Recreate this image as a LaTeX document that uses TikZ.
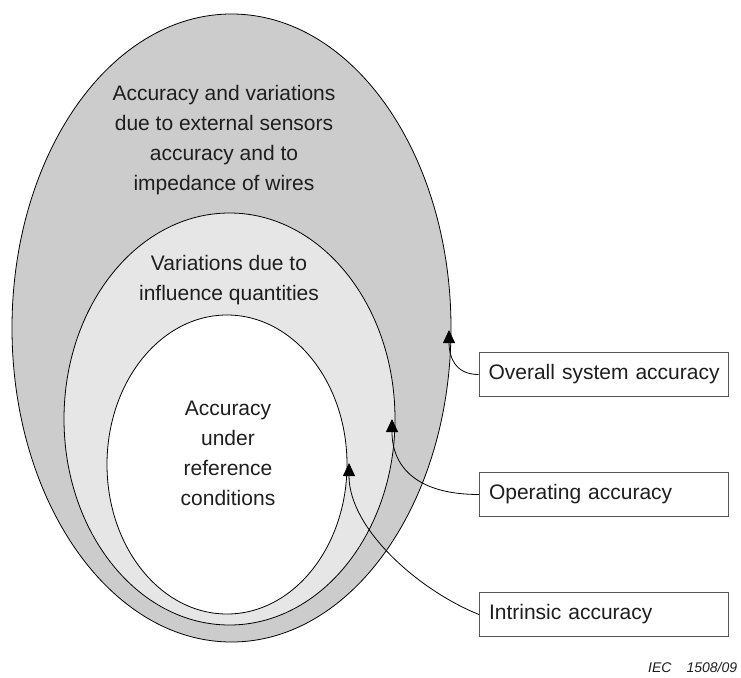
\documentclass[tikz,border=0pt]{standalone}
\usepackage{fontspec}
\setmainfont{Liberation Sans}
\usetikzlibrary{shapes.geometric,arrows.meta}
\definecolor{outerfill}{HTML}{CCCCCC}
\definecolor{midfill}{HTML}{E6E6E6}
\definecolor{txt}{HTML}{1E1E1E}
\definecolor{boxline}{HTML}{555555}
\tikzset{
  ring/.style={ellipse,draw=black,line width=0.8pt,inner sep=0pt,outer sep=0pt},
  lbl/.style={font=\fontsize{21}{30}\selectfont,text=txt,align=center,inner sep=0pt},
  labelbox/.style={draw=boxline,line width=1pt,fill=white,font=\fontsize{21}{25}\selectfont,text=txt,
    text width=244pt,align=left,inner xsep=2.5pt,inner ysep=0pt,minimum height=44pt,
    execute at begin node={\hspace*{7pt}}},
  pointer/.style={draw=black,line width=0.8pt,-{Triangle[length=13pt,width=12pt]}}
}
\begin{document}
\begin{tikzpicture}[x=1pt,y=-1pt]
\useasboundingbox (0,0) rectangle (741,677);
\node[ring,fill=outerfill,minimum width=439pt,minimum height=628pt] (outer) at (231.5,328) {};
\node[ring,fill=midfill,minimum width=331pt,minimum height=412pt] (middle) at (229.5,419) {};
\node[ring,fill=white,minimum width=240pt,minimum height=299pt] (inner) at (227,464.5) {};
\node[lbl] (outertext) at (224,140) {Accuracy and variations\\due to external sensors\\accuracy and to\\impedance of wires};
\node[lbl] (midtext) at (229,280) {Variations due to\\influence quantities};
\node[lbl] (innertext) at (228,453) {Accuracy\\under\\reference\\conditions};
\node[labelbox] (overall) at (603.5,374.5) {Overall system accuracy};
\node[labelbox] (operating) at (604,494.5) {Operating accuracy};
\node[labelbox] (intrinsic) at (604,614.5) {Intrinsic accuracy};
\coordinate (t1) at (449,330);
\coordinate (t2) at (392,419);
\coordinate (t3) at (349,463);
\draw[pointer] (overall.west) .. controls +(-24,0) and +(0,26) .. (t1);
\draw[pointer] (operating.west) .. controls +(-62,0) and +(0,48) .. (t2);
\draw[pointer] (intrinsic.west) .. controls +(-60,-24) and +(0,66) .. (t3);
\node[font=\fontsize{14}{16}\selectfont\itshape,text=txt,anchor=base west,inner sep=0pt] (iec) at (648,672) {IEC\hspace{15pt}1508/09};
\end{tikzpicture}
\end{document}
